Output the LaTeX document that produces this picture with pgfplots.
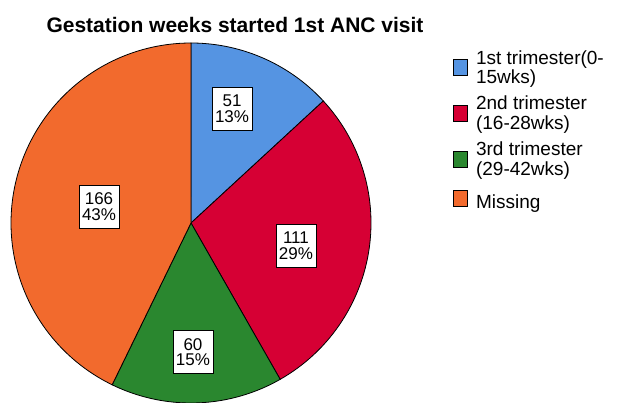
\documentclass[border=0pt]{standalone}
\usepackage{pgfplots}
\pgfplotsset{compat=1.18}
\usepackage{fontspec}
\setmainfont{Liberation Sans}
\definecolor{c1}{RGB}{85,148,226}
\definecolor{c2}{RGB}{214,0,52}
\definecolor{c3}{RGB}{42,135,47}
\definecolor{c4}{RGB}{242,106,45}
\begin{document}
\begin{tikzpicture}[
  lbl/.style={draw=black, fill=white, align=center, line width=0.8pt,
    font=\fontsize{17}{15.5}\selectfont, inner sep=3pt, minimum width=40pt, minimum height=43pt}]
\useasboundingbox (0pt,0pt) rectangle (617pt,403pt);
% counts
\def\nA{51}\def\nB{111}\def\nC{60}\def\nD{166}
\pgfmathsetmacro{\tot}{\nA+\nB+\nC+\nD}
\pgfmathsetmacro{\aA}{90}
\pgfmathsetmacro{\aB}{\aA-360*(\nA/\tot)}
\pgfmathsetmacro{\aC}{\aB-360*(\nB/\tot)}
\pgfmathsetmacro{\aD}{\aC-360*(\nC/\tot)}
\pgfmathsetmacro{\aE}{\aD-360*(\nD/\tot)}
\node[font=\bfseries\fontsize{21}{24}\selectfont] at (235pt,378pt) {Gestation weeks started 1st ANC visit};
\begin{axis}[at={(191pt,180pt)}, anchor=center, width=360pt, height=360pt,
  scale only axis, hide axis, xmin=-1, xmax=1, ymin=-1, ymax=1, clip=false,
  legend style={at={(1.228,0.986)}, anchor=north west, draw=none, fill=none,
    inner sep=0pt, font=\fontsize{19}{19.5}\selectfont, cells={align=left},
    row sep=7pt},
  legend cell align=left,
  legend image code/.code={\draw[#1] (0pt,-8pt) rectangle (14pt,8pt); \path (20pt,0pt);}]
\addplot[fill=c1, draw=black, line width=0.8pt, domain=\aB:\aA, samples=60, variable=\t]
  ({cos(\t)},{sin(\t)}) -- (axis cs:0,0) -- cycle;
\addlegendentry{1st trimester(0-\\15wks)}
\addplot[fill=c2, draw=black, line width=0.8pt, domain=\aC:\aB, samples=80, variable=\t]
  ({cos(\t)},{sin(\t)}) -- (axis cs:0,0) -- cycle;
\addlegendentry{2nd trimester\\(16-28wks)}
\addplot[fill=c3, draw=black, line width=0.8pt, domain=\aD:\aC, samples=60, variable=\t]
  ({cos(\t)},{sin(\t)}) -- (axis cs:0,0) -- cycle;
\addlegendentry{3rd trimester\\(29-42wks)}
\addplot[fill=c4, draw=black, line width=0.8pt, domain=\aE:\aD, samples=120, variable=\t]
  ({cos(\t)},{sin(\t)}) -- (axis cs:0,0) -- cycle;
\addlegendentry{\rule[-11.5pt]{0pt}{32.7pt}Missing}
\node[lbl] at (axis cs:0.228,0.636) {51\\13\%};
\node[lbl] at (axis cs:0.583,-0.125) {111\\29\%};
\node[lbl] at (axis cs:0.011,-0.717) {60\\15\%};
\node[lbl] at (axis cs:-0.511,0.092) {166\\43\%};
\end{axis}
\end{tikzpicture}
\end{document}
